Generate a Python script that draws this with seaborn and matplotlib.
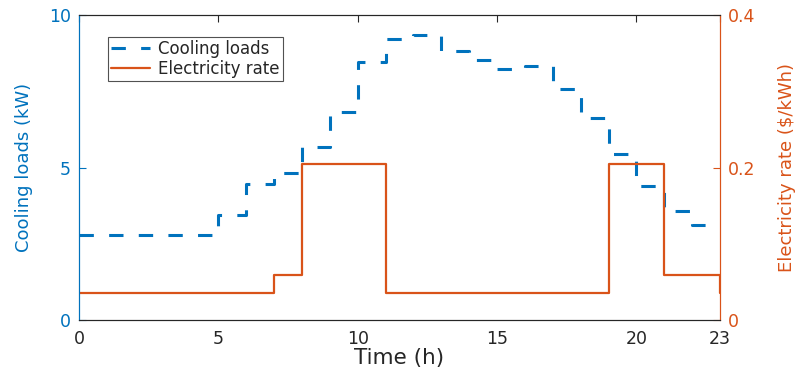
import matplotlib
matplotlib.use("Agg")
import matplotlib.pyplot as plt
import seaborn as sns
import pandas as pd

hours = list(range(24))
cooling_loads = [2.8, 2.8, 2.8, 2.8, 2.8, 3.44, 4.46, 4.83, 5.68, 6.81, 8.45, 9.21,
                 9.34, 8.82, 8.52, 8.22, 8.34, 7.56, 6.63, 5.44, 4.39, 3.58, 3.12, 3.12]
electricity_rate = [0.036, 0.036, 0.036, 0.036, 0.036, 0.036, 0.036, 0.059, 0.205, 0.205,
                    0.205, 0.036, 0.036, 0.036, 0.036, 0.036, 0.036, 0.036, 0.036, 0.205,
                    0.205, 0.059, 0.059, 0.036]
x_ticks = [0, 5, 10, 15, 20, 23]
left_ticks = [0, 5, 10]
right_ticks = [0, 0.2, 0.4]
right_tick_labels = ["0", "0.2", "0.4"]

df = pd.DataFrame({"hour": hours, "load": cooling_loads, "rate": electricity_rate})

sns.set_style("white")
plt.rcParams['font.family'] = ['DejaVu Sans']

BLUE = "#0072BD"
ORANGE = "#D95319"
GRAY = "#262626"

fig = plt.figure(figsize=(8.01, 3.78), dpi=100)
ax = fig.add_axes([79/801, 58/378, 641/801, 305/378])
ax2 = ax.twinx()

sns.lineplot(data=df, x="hour", y="load", ax=ax, color=BLUE, lw=2.2,
             drawstyle="steps-post", estimator=None, sort=False, label="Cooling loads",
             legend=False)
ax.lines[0].set_dashes((4.7, 5))
sns.lineplot(data=df, x="hour", y="rate", ax=ax2, color=ORANGE, lw=1.6,
             drawstyle="steps-post", estimator=None, sort=False, label="Electricity rate",
             legend=False)

ax.set_xlim(0, 23)
ax.set_ylim(0, 10)
ax2.set_ylim(0, 0.4)
ax.set_xticks(x_ticks)
ax.set_yticks(left_ticks)
ax2.set_yticks(right_ticks)
ax2.set_yticklabels(right_tick_labels)

ax.set_xlabel("Time (h)", fontsize=15.5, color=GRAY, labelpad=0.5)
ax.set_ylabel("Cooling loads (kW)", fontsize=13, color=BLUE, labelpad=11)
ax2.set_ylabel("Electricity rate (\\$/kWh)", fontsize=13, color=ORANGE, labelpad=16)

for a in (ax, ax2):
    for s in a.spines.values():
        s.set_linewidth(0.8)
        s.set_color(GRAY)
    a.spines["left"].set_color(BLUE)
    a.spines["right"].set_color(ORANGE)

ax.tick_params(axis="x", direction="in", top=True, length=5, width=0.8,
               colors=GRAY, labelsize=12.5, pad=7)
ax.tick_params(axis="y", direction="in", length=5, width=0.8, colors=BLUE,
               labelsize=12.5, pad=6)
ax2.tick_params(axis="y", direction="in", length=5, width=0.8, colors=ORANGE,
                labelsize=12.5, pad=6)

h1, l1 = ax.get_legend_handles_labels()
h2, l2 = ax2.get_legend_handles_labels()
leg = ax2.legend(h1 + h2, l1 + l2, loc="upper left", bbox_to_anchor=(0.045, 0.928),
                 fontsize=12, frameon=True, fancybox=False, edgecolor=GRAY,
                 handlelength=2.3, borderpad=0.2, labelspacing=0.08, handletextpad=0.5,
                 borderaxespad=0)
leg.get_frame().set_linewidth(0.8)

fig.savefig("out.png", dpi=100)
